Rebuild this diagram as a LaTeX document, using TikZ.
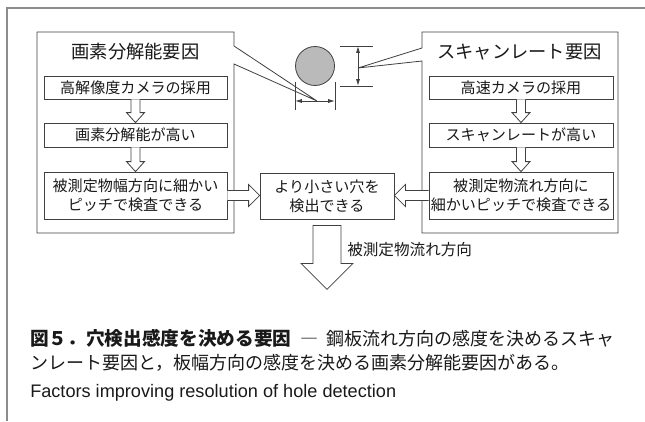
\documentclass[tikz,border=0pt]{standalone}
\usepackage{fontspec}
\setmainfont{Noto Sans CJK JP}
\newfontfamily\latinsans{Liberation Sans}
\usetikzlibrary{arrows.meta,calc}
\tikzset{
  ln/.style={draw=black!75, line width=0.6pt},
  frameln/.style={draw=black!45, line width=0.9pt},
  inbox/.style={ln, rectangle, inner sep=0pt, align=center, font=\fontsize{11.3pt}{14.4pt}\selectfont, text=black!90},
  titletext/.style={font=\fontsize{13.7pt}{16pt}\selectfont, text=black!90, inner sep=0pt},
  captext/.style={anchor=west, inner sep=0pt, font=\fontsize{13.5pt}{16pt}\selectfont, text=black!90},
  harrow/.style={ln, fill=white, line join=miter},
  dimarrow/.style={ln, {Latex[length=5pt,width=3pt]}-{Latex[length=5pt,width=3pt]}},
}
\begin{document}
\begin{tikzpicture}[x=0.75pt, y=-0.75pt]
\useasboundingbox (0,0) rectangle (645,421);
% frame
\draw[frameln] (7,421) -- (7,8) -- (645,8);

% outer callout boxes
\draw[ln, fill=white, line join=miter] (37,32) -- (234,32) -- (234,46) -- (317,101) -- (234,64) -- (234,233) -- (37,233) -- cycle;
\draw[ln, fill=white, line join=miter] (618,32) -- (422,32) -- (422,48) -- (358,68) -- (422,61) -- (422,233) -- (618,233) -- cycle;

\node[titletext] (ltitle) at (135.5,52) {画素分解能要因};
\node[titletext] (rtitle) at (519.5,52) {スキャンレート要因};

% left inner boxes
\node[inbox, minimum width=137.25pt, minimum height=17.25pt] (L1) at (135.5,87.5) {高解像度カメラの採用};
\node[inbox, minimum width=137.25pt, minimum height=18pt] (L2) at (135.5,135) {画素分解能が高い};
\node[inbox, minimum width=137.25pt, minimum height=35.25pt] (L3) at (135.5,195.5) {被測定物幅方向に細かい\\ピッチで検査できる};
% right inner boxes
\node[inbox, minimum width=138pt, minimum height=17.25pt] (R1) at (521,87.5) {高速カメラの採用};
\node[inbox, minimum width=138pt, minimum height=18pt] (R2) at (521,135) {スキャンレートが高い};
\node[inbox, minimum width=138pt, minimum height=35.25pt] (R3) at (521,195.5) {被測定物流れ方向に\\細かいピッチで検査できる};
% center box
\node[inbox, minimum width=100.5pt, minimum height=34.5pt] (C) at (327,196) {より小さい穴を\\検出できる};

% small hollow down arrows
\foreach \a/\b in {L1/L2, L2/L3, R1/R2, R2/R3}{
  \path let \p1=(\a.south), \p2=(\b.north) in
    [harrow] (\x1-3.375pt,\y1) -- (\x1-3.375pt,\y2+7.5pt) -- (\x1-6.75pt,\y2+7.5pt) -- (\x1,\y2)
      -- (\x1+6.75pt,\y2+7.5pt) -- (\x1+3.375pt,\y2+7.5pt) -- (\x1+3.375pt,\y1);
}
% horizontal hollow arrows
\path let \p1=(L3.east), \p2=(C.west) in
  [harrow] (\x1,\y1+3.75pt) -- (\x2-8.25pt,\y1+3.75pt) -- (\x2-8.25pt,\y1+8.25pt) -- (\x2,\y1)
    -- (\x2-8.25pt,\y1-8.25pt) -- (\x2-8.25pt,\y1-3.75pt) -- (\x1,\y1-3.75pt);
\path let \p1=(R3.west), \p2=(C.east) in
  [harrow] (\x1,\y1+3.75pt) -- (\x2+8.25pt,\y1+3.75pt) -- (\x2+8.25pt,\y1+8.25pt) -- (\x2,\y1)
    -- (\x2+8.25pt,\y1-8.25pt) -- (\x2+8.25pt,\y1-3.75pt) -- (\x1,\y1-3.75pt);

% big down arrow
\path let \p1=(C.south) in
  [harrow] (\x1-10.5pt,\y1-4.5pt) -- (\x1+10.5pt,\y1-4.5pt) -- (\x1+10.5pt,\y1-33pt) -- (\x1+19.5pt,\y1-33pt)
    -- (\x1,\y1-52.5pt) -- (\x1-19.5pt,\y1-33pt) -- (\x1-10.5pt,\y1-33pt) -- cycle;
\node[anchor=west, inner sep=0pt, font=\fontsize{11.7pt}{14pt}\selectfont, text=black!90] (flow) at (347,250) {被測定物流れ方向};

% hole and dimensions
\node[circle, ln, fill=black!27, minimum size=29.25pt, inner sep=0pt] (hole) at (315,66) {};
\draw[ln] ($(hole.west)+(0,16)$) -- ($(hole.west)+(0,44)$);
\draw[ln] ($(hole.east)+(0,16)$) -- ($(hole.east)+(0,44)$);
\draw[dimarrow] ($(hole.west)+(0,35)$) -- ($(hole.east)+(0,35)$);
\draw[ln] ($(hole.north)+(25,0)$) -- ($(hole.north)+(58,0)$);
\draw[ln] ($(hole.south)+(25,0)$) -- ($(hole.south)+(58,0)$);
\draw[dimarrow] ($(hole.north)+(43,0)$) -- ($(hole.south)+(43,0)$);

% caption
\node[captext] (cap1) at (30,338)
  {{\fontsize{14pt}{16pt}\selectfont\bfseries 図５．穴検出感度を決める要因}\hspace{6.5pt}―\hspace{6pt}鋼板流れ方向の感度を決めるスキャ};
\node[captext] (cap2) at (30,363)
  {ンレート要因と，板幅方向の感度を決める画素分解能要因がある。};
\node[anchor=west, inner sep=0pt, font=\latinsans\fontsize{13.6pt}{15pt}\selectfont, text=black!90] (cap3) at (30,393)
  {Factors improving resolution of hole detection};
\end{tikzpicture}
\end{document}
